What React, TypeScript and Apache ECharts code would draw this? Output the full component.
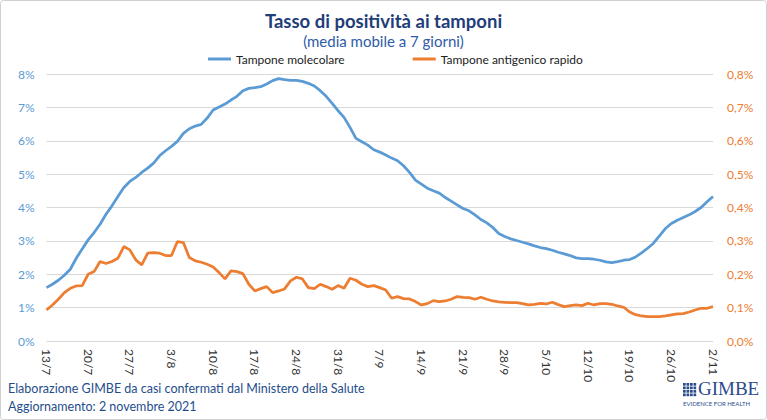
import React, { useEffect, useRef } from "react";
import * as echarts from "echarts";

// Daily categories 13/7/2021 .. 2/11/2021
const START_DATE = Date.UTC(2021, 6, 13);
const N_DAYS = 113;
const dates: string[] = Array.from({ length: N_DAYS }, (_, i) => {
  const d = new Date(START_DATE + i * 86400000);
  return `${d.getUTCDate()}/${d.getUTCMonth() + 1}`;
});

// Tampone molecolare (%)
const molecolare: number[] = [
  1.6, 1.7, 1.82, 1.97, 2.15, 2.48, 2.76,
  3.03, 3.25, 3.5, 3.8, 4.05, 4.33, 4.6,
  4.78, 4.9, 5.05, 5.18, 5.33, 5.55, 5.7,
  5.83, 5.98, 6.22, 6.36, 6.44, 6.49, 6.68,
  6.92, 7.01, 7.1, 7.22, 7.33, 7.5, 7.57,
  7.59, 7.62, 7.7, 7.8, 7.86, 7.83, 7.81,
  7.81, 7.78, 7.72, 7.64, 7.5, 7.33, 7.12,
  6.9, 6.7, 6.4, 6.07, 5.97, 5.87, 5.73,
  5.66, 5.57, 5.48, 5.4, 5.25, 5.05, 4.82,
  4.7, 4.58, 4.5, 4.43, 4.3, 4.19, 4.08,
  3.97, 3.9, 3.78, 3.64, 3.54, 3.4, 3.22,
  3.13, 3.06, 3.01, 2.96, 2.91, 2.85, 2.8,
  2.77, 2.72, 2.66, 2.61, 2.56, 2.49, 2.47,
  2.47, 2.45, 2.42, 2.37, 2.35, 2.38, 2.42,
  2.44, 2.52, 2.64, 2.78, 2.93, 3.15, 3.37,
  3.52, 3.62, 3.7, 3.78, 3.88, 4.0, 4.17,
  4.33,
];

// Tampone antigenico rapido (%)
const antigenico: number[] = [
  0.093, 0.108, 0.125, 0.145, 0.158, 0.165, 0.166,
  0.2, 0.208, 0.238, 0.232, 0.238, 0.248, 0.283,
  0.273, 0.243, 0.228, 0.263, 0.265, 0.263, 0.256,
  0.256, 0.298, 0.295, 0.25, 0.24, 0.236, 0.23,
  0.222, 0.205, 0.186, 0.21, 0.208, 0.202, 0.17,
  0.15, 0.157, 0.163, 0.145, 0.15, 0.156, 0.18,
  0.191, 0.186, 0.16, 0.157, 0.17, 0.163, 0.155,
  0.166, 0.158, 0.188, 0.182, 0.17, 0.163, 0.166,
  0.16, 0.153, 0.128, 0.133, 0.127, 0.126, 0.118,
  0.108, 0.112, 0.121, 0.118, 0.12, 0.125, 0.133,
  0.131, 0.13, 0.125, 0.131, 0.125, 0.12, 0.117,
  0.116, 0.115, 0.115, 0.112, 0.108, 0.11, 0.113,
  0.111, 0.116, 0.109, 0.103, 0.106, 0.108, 0.106,
  0.113, 0.108, 0.112, 0.112, 0.11, 0.105, 0.101,
  0.087, 0.079, 0.075, 0.073, 0.073, 0.073, 0.075,
  0.078, 0.081, 0.082, 0.087, 0.093, 0.098, 0.098,
  0.103,
];

const TITLE = "Tasso di positività ai tamponi";
const SUBTITLE = "(media mobile a 7 giorni)";
const SERIES_NAMES = ["Tampone molecolare", "Tampone antigenico rapido"];
const FOOTER_1 = "Elaborazione GIMBE da casi confermati dal Ministero della Salute";
const FOOTER_2 = "Aggiornamento: 2 novembre 2021";

const FONT = "Lato, 'Open Sans', sans-serif";
const BLUE = "#5B9BD5";
const ORANGE = "#ED7D31";

export default function App() {
  const ref = useRef<HTMLDivElement>(null);
  useEffect(() => {
    document.body.style.margin = "0";
    if (!ref.current) return;
    const chart = echarts.init(ref.current, undefined, { renderer: "svg" });

    const logoSquares: any[] = [];
    for (let r = 0; r < 4; r++) {
      for (let c = 0; c < 4; c++) {
        logoSquares.push({
          type: "rect",
          shape: { x: 683 + c * 3.5, y: 383 + r * 3.5, width: 2.7, height: 2.7 },
          style: { fill: "#2A4B8D" },
        });
      }
    }

    chart.setOption({
      animation: false,
      backgroundColor: "#ffffff",
      textStyle: { fontFamily: FONT },
      title: [
        {
          text: TITLE,
          left: "center",
          top: 6,
          textStyle: { fontFamily: FONT, fontSize: 18.5, fontWeight: "bold", color: "#1F3D7A" },
        },
        {
          text: SUBTITLE,
          left: "center",
          top: 28,
          textStyle: { fontFamily: FONT, fontSize: 15, fontWeight: "normal", color: "#2E5BA8" },
        },
      ],
      legend: {
        top: 48,
        left: 203,
        itemWidth: 23,
        itemHeight: 3,
        itemGap: 68,
        icon: "rect",
        textStyle: { fontFamily: FONT, fontSize: 12, color: "#222" },
        data: SERIES_NAMES,
      },
      grid: { left: 46.5, right: 54, top: 74, bottom: 79, containLabel: false },
      xAxis: {
        type: "category",
        data: dates,
        boundaryGap: false,
        axisLine: { show: false },
        axisTick: { show: false },
        axisLabel: {
          interval: 6,
          rotate: -90,
          margin: 8,
          fontFamily: FONT,
          fontSize: 12,
          color: "#333",
        },
        splitLine: { show: false },
      },
      yAxis: [
        {
          type: "value",
          min: 0,
          max: 8,
          interval: 1,
          axisLine: { show: false },
          axisTick: { show: false },
          axisLabel: {
            formatter: (v: number) => `${v}%`,
            margin: 12,
            fontFamily: FONT,
            fontSize: 12,
            color: BLUE,
          },
          splitLine: { lineStyle: { color: "#D9D9D9", width: 1 } },
        },
        {
          type: "value",
          min: 0,
          max: 0.8,
          interval: 0.1,
          position: "right",
          axisLine: { show: false },
          axisTick: { show: false },
          axisLabel: {
            formatter: (v: number) => `${v.toFixed(1).replace(".", ",")}%`,
            margin: 14,
            fontFamily: FONT,
            fontSize: 12,
            color: ORANGE,
          },
          splitLine: { show: false },
        },
      ],
      series: [
        {
          name: SERIES_NAMES[0],
          type: "line",
          data: molecolare,
          yAxisIndex: 0,
          symbol: "none",
          smooth: false,
          lineStyle: { color: BLUE, width: 2.75 },
          itemStyle: { color: BLUE },
        },
        {
          name: SERIES_NAMES[1],
          type: "line",
          data: antigenico,
          yAxisIndex: 1,
          symbol: "none",
          smooth: false,
          lineStyle: { color: ORANGE, width: 2.75 },
          itemStyle: { color: ORANGE },
        },
      ],
      graphic: [
        {
          type: "rect",
          shape: { x: 0.5, y: 0.5, width: 766, height: 419, r: 3 },
          style: { fill: "none", stroke: "#D0D0D0", lineWidth: 1 },
          silent: true,
          z: -1,
        },
        {
          type: "text",
          x: 8,
          y: 382,
          style: { text: FOOTER_1, fontFamily: FONT, fontSize: 12.5, fill: "#1F4E8C" },
        },
        {
          type: "text",
          x: 8,
          y: 400,
          style: { text: FOOTER_2, fontFamily: FONT, fontSize: 12.5, fill: "#1F4E8C" },
        },
        ...logoSquares,
        {
          type: "text",
          x: 698,
          y: 379,
          style: {
            text: "GIMBE",
            fontFamily: "'Liberation Serif', 'DejaVu Serif', serif",
            fontSize: 19,
            fill: "#2A4B8D",
          },
        },
        {
          type: "text",
          x: 683,
          y: 400,
          style: {
            text: "EVIDENCE FOR HEALTH",
            fontFamily: FONT,
            fontSize: 6,
            fill: "#2A4B8D",
          },
        },
      ],
    });
    return () => chart.dispose();
  }, []);
  return <div ref={ref} style={{ width: 767, height: 420 }} />;
}
